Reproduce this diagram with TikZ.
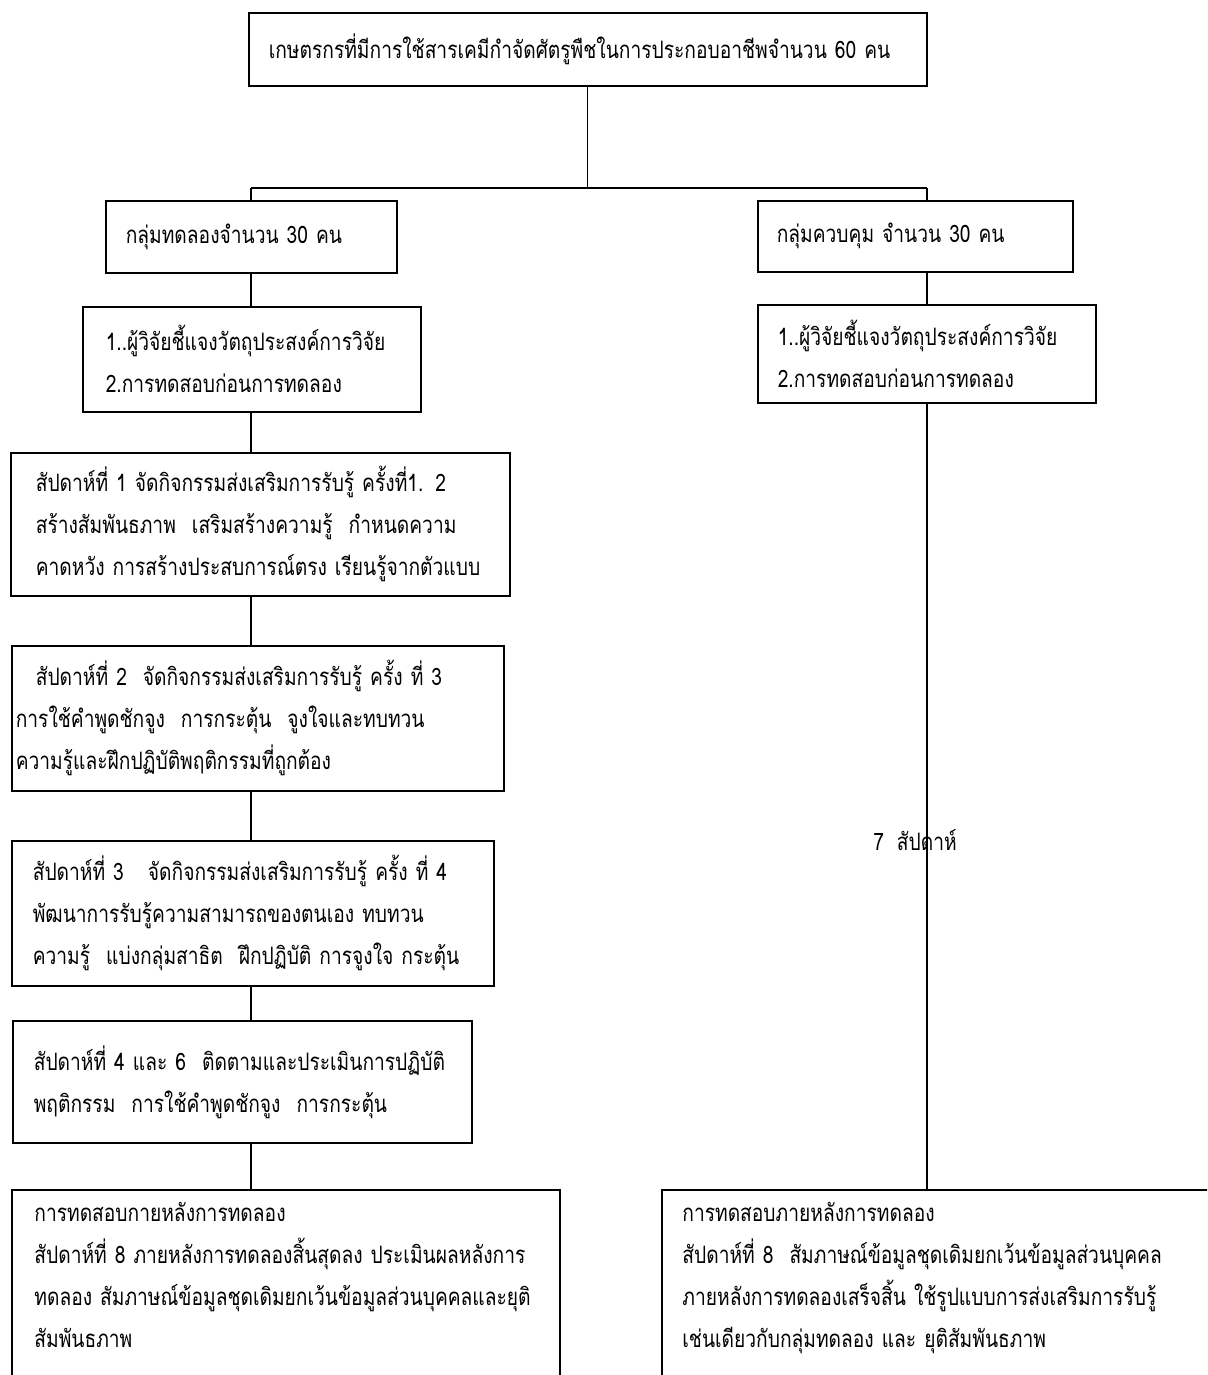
\documentclass[tikz,border=0pt]{standalone}
\usepackage{fontspec}
\newfontfamily\thaifont[Script=Thai,FakeStretch=0.8]{Loma}
\begin{document}
\begin{tikzpicture}[x=0.5pt,y=-0.5pt,
  txt/.style={font=\thaifont\fontsize{12}{21}\selectfont},
  box/.style={txt, draw, line width=0.8pt, anchor=north west, align=left, inner ysep=0pt},
  open/.style={txt, anchor=north west, align=left, inner ysep=6pt, inner xsep=0pt},
  frame/.style={line width=0.8pt},
  conn/.style={line width=0.6pt}]
\useasboundingbox (0,0) rectangle (1207,1375);
\clip (0,0) rectangle (1207,1375);
\fill[white] (0,0) rectangle (1207,1375);

% boxes
\node[box, minimum width=339pt, minimum height=36.5pt, text width=319pt, inner xsep=10pt] (top) at (248,12)
  {เกษตรกรที่มีการใช้สารเคมีกำจัดศัตรูพืชในการประกอบอาชีพจำนวน 60 คน};
\node[box, minimum width=145.5pt, minimum height=36pt, text width=125.5pt, inner xsep=10pt] (L1) at (105,200)
  {กลุ่มทดลองจำนวน 30 คน};
\node[box, minimum width=157.5pt, minimum height=35.5pt, text width=138.5pt, inner xsep=9.5pt] (R1) at (757,200)
  {กลุ่มควบคุม จำนวน 30 คน};
\node[box, minimum width=169pt, minimum height=52.5pt, text width=146pt, inner xsep=11.5pt] (L2) at (82,306)
  {1..ผู้วิจัยชี้แจงวัตถุประสงค์การวิจัย\\2.การทดสอบก่อนการทดลอง};
\node[box, minimum width=169pt, minimum height=49pt, text width=149pt, inner xsep=10pt] (R2) at (757,304)
  {1..ผู้วิจัยชี้แจงวัตถุประสงค์การวิจัย\\2.การทดสอบก่อนการทดลอง};
\node[box, minimum width=249.5pt, minimum height=71.5pt, text width=224.5pt, inner xsep=12.5pt] (W1) at (10,452)
  {สัปดาห์ที่ 1 จัดกิจกรรมส่งเสริมการรับรู้ ครั้งที่1. 2\\
   สร้างสัมพันธภาพ\ \ เสริมสร้างความรู้\ \ กำหนดความ\\
   คาดหวัง การสร้างประสบการณ์ตรง เรียนรู้จากตัวแบบ};
\node[box, minimum width=246pt, minimum height=72.5pt, text width=242pt, inner xsep=2pt] (W2) at (11,645)
  {\hspace*{10pt}สัปดาห์ที่ 2\ \ จัดกิจกรรมส่งเสริมการรับรู้ ครั้ง ที่ 3\\
   การใช้คำพูดชักจูง\ \ การกระตุ้น\ \ จูงใจและทบทวน\\
   ความรู้และฝึกปฏิบัติพฤติกรรมที่ถูกต้อง};
\node[box, minimum width=241pt, minimum height=72.5pt, text width=220pt, inner xsep=10.5pt] (W3) at (11,840)
  {สัปดาห์ที่ 3\ \ \ จัดกิจกรรมส่งเสริมการรับรู้ ครั้ง ที่ 4\\
   พัฒนาการรับรู้ความสามารถของตนเอง ทบทวน\\
   ความรู้\ \ แบ่งกลุ่มสาธิต\ \ ฝึกปฏิบัติ การจูงใจ กระตุ้น};
\node[box, minimum width=229.5pt, minimum height=61pt, text width=208.5pt, inner xsep=10.5pt] (W46) at (12,1020)
  {สัปดาห์ที่ 4 และ 6\ \ ติดตามและประเมินการปฏิบัติ\\
   พฤติกรรม\ \ การใช้คำพูดชักจูง\ \ การกระตุ้น};

% open-bottomed boxes
\coordinate (pgbot) at (0,1390);
\node[open, text width=252pt] (BLt) at (34,1190)
  {การทดสอบกายหลังการทดลอง\\
   สัปดาห์ที่ 8 ภายหลังการทดลองสิ้นสุดลง ประเมินผลหลังการ\\
   ทดลอง สัมภาษณ์ข้อมูลชุดเดิมยกเว้นข้อมูลส่วนบุคคลและยุติ\\
   สัมพันธภาพ};
\coordinate (BLnw) at (12,1190);
\coordinate (BLne) at (560,1190);
\draw[frame] (BLnw |- pgbot) -- (BLnw) -- (BLne) -- (BLne |- pgbot);

\node[open, text width=262pt] (BRt) at (682,1190)
  {การทดสอบภายหลังการทดลอง\\
   สัปดาห์ที่ 8\ \ สัมภาษณ์ข้อมูลชุดเดิมยกเว้นข้อมูลส่วนบุคคล\\
   ภายหลังการทดลองเสร็จสิ้น ใช้รูปแบบการส่งเสริมการรับรู้\\
   เช่นเดียวกับกลุ่มทดลอง และ ยุติสัมพันธภาพ};
\coordinate (BRnw) at (662,1190);
\coordinate (BRne) at (1220,1190);
\draw[frame] (BRnw |- pgbot) -- (BRnw) -- (BRne);

% connectors
\coordinate (jL) at (251,188);
\coordinate (jR) at (927,188);
\draw[conn] (top.south) -- (top.south |- jL);
\draw[conn] (jL) -- (jR);
\draw[conn] (jL) -- (jL |- L1.north);
\draw[conn] (jR) -- (jR |- R1.north);
\draw[conn] (L1.south -| jL) -- (L2.north -| jL);
\draw[conn] (L2.south -| jL) -- (W1.north -| jL);
\draw[conn] (W1.south -| jL) -- (W2.north -| jL);
\draw[conn] (W2.south -| jL) -- (W3.north -| jL);
\draw[conn] (W3.south -| jL) -- (W46.north -| jL);
\draw[conn] (W46.south -| jL) -- (BLnw -| jL);
\draw[conn] (R1.south -| jR) -- (R2.north -| jR);
\draw[conn] (R2.south -| jR) -- (BRnw -| jR);

\node[txt] (wk) at (915,840) {7\ \ สัปดาห์};
\end{tikzpicture}
\end{document}
